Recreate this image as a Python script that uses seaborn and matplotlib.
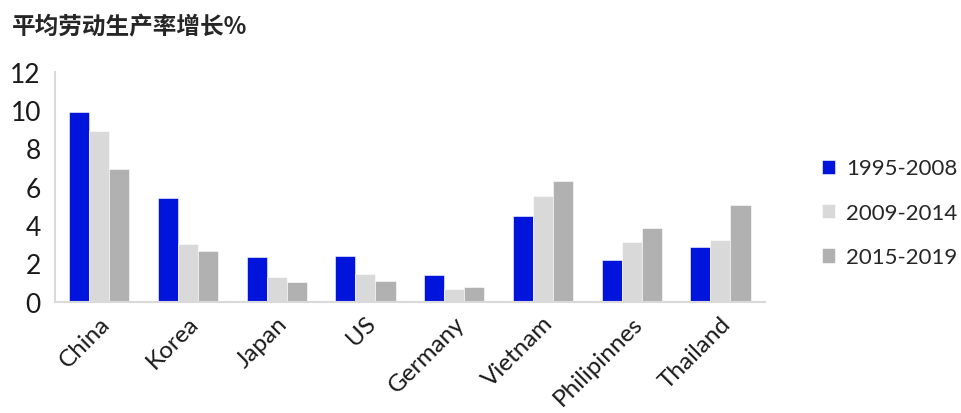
import matplotlib
matplotlib.use("Agg")
import matplotlib.pyplot as plt
import matplotlib.transforms as mtransforms
import seaborn as sns
import pandas as pd
import numpy as np
from matplotlib.ticker import FixedLocator

categories = ["China", "Korea", "Japan", "US", "Germany", "Vietnam", "Philipinnes", "Thailand"]
periods = ["1995-2008", "2009-2014", "2015-2019"]
v_1995_2008 = [9.9, 5.4, 2.35, 2.4, 1.4, 4.45, 2.2, 2.85]
v_2009_2014 = [8.9, 3.0, 1.27, 1.44, 0.65, 5.5, 3.12, 3.22]
v_2015_2019 = [6.92, 2.64, 1.0, 1.06, 0.75, 6.32, 3.86, 5.03]
title = "平均劳动生产率增长%"
yticks = [0, 2, 4, 6, 8, 10, 12]

colors = ["#0014DC", "#D9D9D9", "#B1B1B1"]

rows = []
for p, vals in zip(periods, [v_1995_2008, v_2009_2014, v_2015_2019]):
    for c, v in zip(categories, vals):
        rows.append({"country": c, "period": p, "value": v})
df = pd.DataFrame(rows)

sns.set_style("white")
plt.rcParams['font.family'] = ['Lato', 'DejaVu Sans']

fig = plt.figure(figsize=(9.62, 4.14), dpi=100)
ax = fig.add_axes([0.057, 0.269, 0.738, 0.555])

sns.barplot(data=df, x="country", y="value", hue="period", order=categories,
            hue_order=periods, palette=colors, width=0.68, ax=ax,
            edgecolor="white", linewidth=0.4, saturation=1)

ax.set_ylim(0, 12)
ax.set_xlim(-0.5, len(categories) - 0.5)
ax.set_yticks(yticks)
ax.set_yticklabels([str(t) for t in yticks], fontsize=19, color="#1a1a1a")
ax.set_xlabel("")
ax.set_ylabel("")

ax.set_xticks(range(len(categories)))
ax.set_xticklabels(categories, rotation=45, ha="right", va="center",
                   rotation_mode="anchor", fontsize=17.5, color="#1a1a1a")
ax.tick_params(axis="x", which="major", length=0, pad=13)
ax.xaxis.set_minor_locator(FixedLocator(np.arange(-0.5, len(categories), 1.0)))
ax.tick_params(axis="x", which="minor", length=7, width=1.5, color="#D9D9D9", direction="out")
ax.tick_params(axis="y", length=6, width=1.5, color="#D9D9D9", direction="out", pad=4)
offset = mtransforms.ScaledTranslation(7 / 100, 0, fig.dpi_scale_trans)
for lbl in ax.get_xticklabels():
    lbl.set_transform(lbl.get_transform() + offset)

for s in ["top", "right"]:
    ax.spines[s].set_visible(False)
for s in ["left", "bottom"]:
    ax.spines[s].set_color("#D9D9D9")
    ax.spines[s].set_linewidth(1.5)

handles, labels = ax.get_legend_handles_labels()
ax.legend(handles, labels, loc="center left", bbox_to_anchor=(1.065, 0.386),
          frameon=False, fontsize=16, handlelength=0.6, handleheight=0.6,
          handletextpad=0.5, labelspacing=1.1, borderpad=0)

fig.text(0.012, 0.935, title, fontsize=17, fontweight="bold",
         family=["Noto Sans CJK SC", "DejaVu Sans"], va="center", ha="left")

fig.savefig("out.png", dpi=100)
